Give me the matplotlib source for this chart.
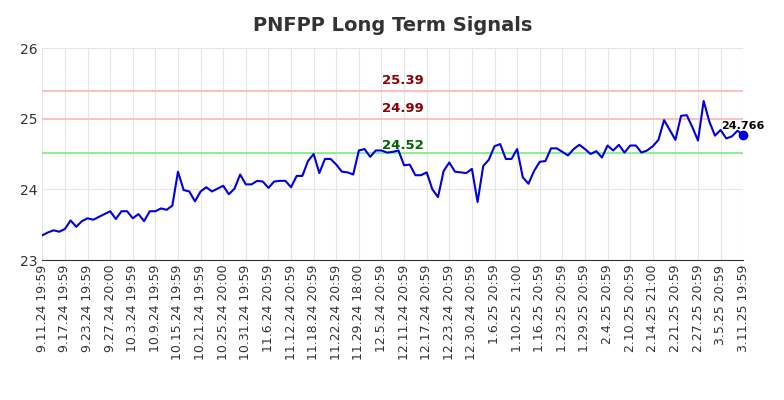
import numpy as np
from matplotlib import pyplot as plt

VALUES = [
    23.35, 23.39, 23.42, 23.40, 23.44, 23.56, 23.47, 23.55, 23.59, 23.57,
    23.61, 23.65, 23.69, 23.58, 23.69, 23.69, 23.59, 23.65, 23.55, 23.69,
    23.69, 23.73, 23.71, 23.77, 24.25, 23.99, 23.97, 23.83, 23.97, 24.03,
    23.97, 24.01, 24.05, 23.93, 24.01, 24.21, 24.07, 24.07, 24.12, 24.11,
    24.02, 24.11, 24.12, 24.12, 24.03, 24.19, 24.19, 24.40, 24.50, 24.23,
    24.43, 24.43, 24.35, 24.25, 24.24, 24.21, 24.55, 24.57, 24.46, 24.55,
    24.55, 24.52, 24.53, 24.55, 24.34, 24.35, 24.20, 24.20, 24.24, 24.00,
    23.89, 24.26, 24.38, 24.25, 24.24, 24.23, 24.29, 23.82, 24.33, 24.42,
    24.61, 24.64, 24.43, 24.43, 24.57, 24.17, 24.08, 24.26, 24.39, 24.40,
    24.58, 24.58, 24.53, 24.48, 24.57, 24.63, 24.57, 24.50, 24.54, 24.45,
    24.62, 24.55, 24.63, 24.52, 24.62, 24.62, 24.52, 24.55, 24.61, 24.70,
    24.98, 24.84, 24.70, 25.04, 25.05, 24.88, 24.69, 25.25, 24.96, 24.76,
    24.84, 24.72, 24.75, 24.83, 24.766,
]
TICK_LABELS = [
    "9.11.24 19:59", "9.17.24 19:59", "9.23.24 19:59", "9.27.24 20:00",
    "10.3.24 19:59", "10.9.24 19:59", "10.15.24 19:59", "10.21.24 19:59",
    "10.25.24 20:00", "10.31.24 19:59", "11.6.24 20:59", "11.12.24 20:59",
    "11.18.24 20:59", "11.22.24 20:59", "11.29.24 18:00", "12.5.24 20:59",
    "12.11.24 20:59", "12.17.24 20:59", "12.23.24 20:59", "12.30.24 20:59",
    "1.6.25 20:59", "1.10.25 21:00", "1.16.25 20:59", "1.23.25 20:59",
    "1.29.25 20:59", "2.4.25 20:59", "2.10.25 20:59", "2.14.25 21:00",
    "2.21.25 20:59", "2.27.25 20:59", "3.5.25 20:59", "3.11.25 19:59",
]
RED_LINES = [25.39, 24.99]
GREEN_LINE = 24.52

fig, ax = plt.subplots(figsize=(7.84, 4.0), dpi=100)
fig.subplots_adjust(left=0.054, right=0.948, top=0.88, bottom=0.35)

x = np.arange(len(VALUES))
for v in RED_LINES:
    ax.axhline(v, color="#ffc0c0", lw=1.5)
ax.axhline(GREEN_LINE, color="#90ee90", lw=1.5)
ax.plot(x, VALUES, color="#0000dd", lw=1.5)
ax.plot(x[-1], VALUES[-1], "o", color="#0000dd", ms=6, clip_on=False)

mid = (len(VALUES) - 1) * 0.515
for v in RED_LINES:
    ax.text(mid, v + 0.06, f"{v:.2f}", color="#8b0000", fontsize=9.5,
            fontweight="bold", ha="center", va="bottom")
ax.text(mid, GREEN_LINE + 0.01, f"{GREEN_LINE:.2f}", color="#006400",
        fontsize=9.5, fontweight="bold", ha="center", va="bottom")
ax.text(x[-1], VALUES[-1] + 0.06, f"{VALUES[-1]}", fontsize=8,
        fontweight="bold", ha="center", va="bottom")

ticks = np.round(np.linspace(0, len(VALUES) - 1, len(TICK_LABELS))).astype(int)
ax.set_xticks(ticks)
ax.set_xticklabels(TICK_LABELS, rotation=90, fontsize=9, color="#333333")
ax.set_xlim(0, len(VALUES) - 1)
ax.set_ylim(23, 26)
ax.set_yticks([23, 24, 25, 26])
ax.tick_params(axis="y", labelsize=10, colors="#333333", length=0)
ax.tick_params(axis="x", length=0)
ax.grid(True, color="#e6e6e6", lw=0.8)
for s in ["top", "right", "left"]:
    ax.spines[s].set_visible(False)
ax.spines["bottom"].set_color("#333333")
ax.set_title("PNFPP Long Term Signals", fontsize=14, fontweight="bold",
             color="#333333", pad=12)

fig.savefig("out.png")
